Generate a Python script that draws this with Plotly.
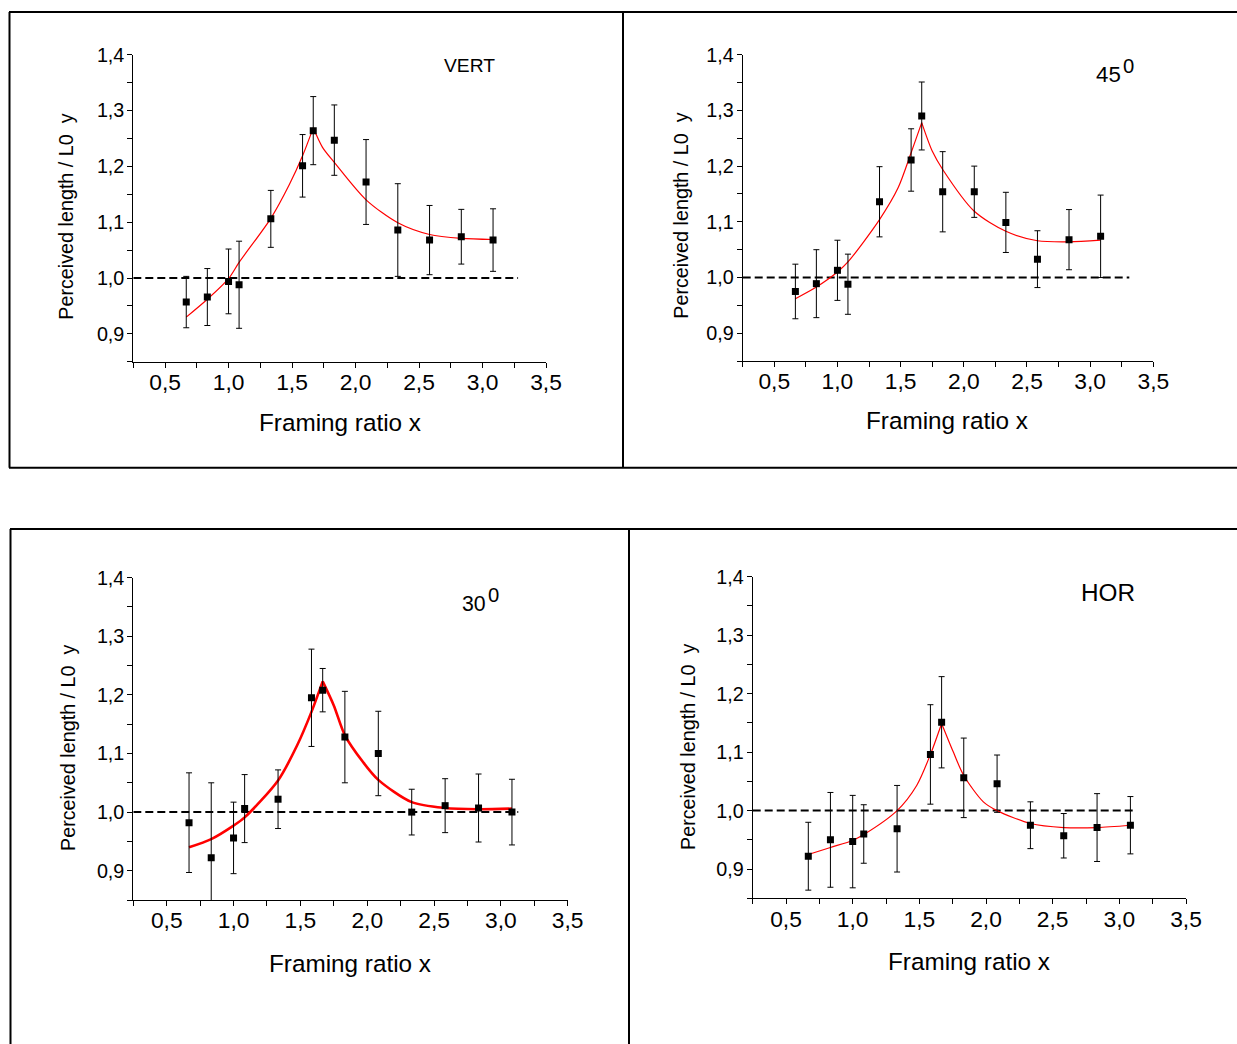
import plotly.graph_objects as go

# The photographed page comes out slightly scaled (about 1237/1253) and shifted
# down by about 10.7 px; positions below are given in photographed-window
# pixels and converted through that mapping.
WIN_W, WIN_H = 1237, 1044
SCALE = 1237 / 1253
OFFSET_Y = 10.7
W = 1253
H = int(round((WIN_H - OFFSET_Y) / SCALE)) + 2

# ---------------- data ----------------
framing_ratio = [0.667, 0.833, 1.0, 1.083, 1.333, 1.583, 1.667, 1.833, 2.083, 2.333, 2.583, 2.833, 3.083]

vert_y = [0.957, 0.966, 0.994, 0.988, 1.106, 1.201, 1.264, 1.247, 1.172, 1.086, 1.068, 1.074, 1.068]
vert_err = [0.046, 0.051, 0.058, 0.078, 0.051, 0.056, 0.061, 0.063, 0.076, 0.083, 0.062, 0.049, 0.056]

deg45_y = [0.975, 0.989, 1.013, 0.988, 1.136, 1.211, 1.290, 1.154, 1.154, 1.099, 1.033, 1.068, 1.074]
deg45_err = [0.049, 0.061, 0.054, 0.054, 0.063, 0.056, 0.061, 0.072, 0.046, 0.054, 0.051, 0.054, 0.074]

deg30_y = [0.982, 0.922, 0.956, 1.006, 1.022, 1.195, 1.208, 1.128, 1.100, 1.000, 1.011, 1.007, 1.000]
deg30_err = [0.085, 0.128, 0.061, 0.058, 0.050, 0.083, 0.037, 0.078, 0.072, 0.039, 0.046, 0.058, 0.056]

hor_y = [0.922, 0.950, 0.947, 0.960, 0.969, 1.096, 1.151, 1.056, 1.046, 0.975, 0.957, 0.971, 0.975]
hor_err = [0.058, 0.081, 0.079, 0.050, 0.074, 0.085, 0.078, 0.068, 0.049, 0.040, 0.038, 0.058, 0.049]

# fitted curves, rising branch and falling branch
vert_fit_left_x = [0.667, 0.833, 1.0, 1.083, 1.333, 1.48, 1.583, 1.667]
vert_fit_left_y = [0.930, 0.962, 0.999, 1.028, 1.107, 1.168, 1.219, 1.269]
vert_fit_right_x = [1.667, 1.74, 1.833, 2.083, 2.333, 2.583, 2.833, 3.083]
vert_fit_right_y = [1.269, 1.234, 1.207, 1.140, 1.099, 1.078, 1.071, 1.069]

deg45_fit_left_x = [0.667, 0.833, 1.0, 1.083, 1.333, 1.48, 1.583, 1.667]
deg45_fit_left_y = [0.962, 0.983, 1.010, 1.028, 1.104, 1.161, 1.224, 1.278]
deg45_fit_right_x = [1.667, 1.75, 1.833, 2.083, 2.333, 2.583, 2.833, 3.083]
deg45_fit_right_y = [1.278, 1.227, 1.194, 1.119, 1.083, 1.066, 1.064, 1.067]

deg30_fit_left_x = [0.667, 0.833, 1.0, 1.083, 1.333, 1.476, 1.583, 1.667]
deg30_fit_left_y = [0.940, 0.954, 0.977, 0.991, 1.054, 1.114, 1.171, 1.223]
deg30_fit_right_x = [1.667, 1.75, 1.833, 1.97, 2.083, 2.333, 2.583, 2.833, 3.083]
deg30_fit_right_y = [1.223, 1.182, 1.131, 1.085, 1.055, 1.017, 1.007, 1.005, 1.006]

hor_fit_left_x = [0.667, 0.833, 1.0, 1.083, 1.333, 1.48, 1.583, 1.667]
hor_fit_left_y = [0.925, 0.937, 0.949, 0.959, 1.000, 1.043, 1.096, 1.149]
hor_fit_right_x = [1.667, 1.755, 1.833, 1.98, 2.083, 2.333, 2.583, 2.833, 3.083]
hor_fit_right_y = [1.149, 1.100, 1.060, 1.015, 1.000, 0.978, 0.971, 0.971, 0.975]

# reference level (dashed) : x extent per panel
ref_level = 1.0
vert_ref_x = [0.25, 3.28]
deg45_ref_x = [0.25, 3.31]
deg30_ref_x = [0.25, 3.13]
hor_ref_x = [0.25, 3.13]

x_tickvals = [0.5, 1.0, 1.5, 2.0, 2.5, 3.0, 3.5]
x_ticktext = ["0,5", "1,0", "1,5", "2,0", "2,5", "3,0", "3,5"]
y_tickvals = [0.9, 1.0, 1.1, 1.2, 1.3, 1.4]
y_ticktext = ["0,9", "1,0", "1,1", "1,2", "1,3", "1,4"]

x_title = "Framing ratio x"
y_title = "Perceived length / L0\u00a0\u00a0y"

# ---------------- layout geometry (window pixels) ----------------
FONT = "Liberation Sans, Arial, sans-serif"

def px_x(p):
    return (p / SCALE) / W

def px_y(p):
    return 1 - ((p - OFFSET_Y) / SCALE) / H

def fs(size):
    return size / SCALE

panels = [
    dict(y=vert_y, err=vert_err, flx=vert_fit_left_x, fly=vert_fit_left_y,
         frx=vert_fit_right_x, fry=vert_fit_right_y, refx=vert_ref_x, fitw=1.2,
         box=(133.3, 546.0, 54.3, 360.7), xt=(340, 421), yt=(66, 215)),
    dict(y=deg45_y, err=deg45_err, flx=deg45_fit_left_x, fly=deg45_fit_left_y,
         frx=deg45_fit_right_x, fry=deg45_fit_right_y, refx=deg45_ref_x, fitw=1.2,
         box=(742.7, 1153.3, 54.3, 360.0), xt=(947, 419), yt=(681, 215)),
    dict(y=deg30_y, err=deg30_err, flx=deg30_fit_left_x, fly=deg30_fit_left_y,
         frx=deg30_fit_right_x, fry=deg30_fit_right_y, refx=deg30_ref_x, fitw=2.6,
         box=(133.3, 567.7, 576.0, 897.7), xt=(350, 961), yt=(68, 746)),
    dict(y=hor_y, err=hor_err, flx=hor_fit_left_x, fly=hor_fit_left_y,
         frx=hor_fit_right_x, fry=hor_fit_right_y, refx=hor_ref_x, fitw=1.2,
         box=(752.7, 1186.0, 575.0, 896.0), xt=(969, 959), yt=(688, 745)),
]

fig = go.Figure()
layout = dict(
    width=W, height=H, margin=dict(l=0, r=0, t=0, b=0),
    paper_bgcolor="white", plot_bgcolor="white", showlegend=False,
    font=dict(family=FONT, color="black"),
)
annotations = []
shapes = []

for i, p in enumerate(panels):
    n = "" if i == 0 else str(i + 1)
    xa, ya = "x" + n, "y" + n
    fig.add_trace(go.Scatter(x=p["refx"], y=[ref_level, ref_level], mode="lines",
                             line=dict(color="black", width=2, dash="8px,4px"),
                             xaxis=xa, yaxis=ya, hoverinfo="skip"))
    fig.add_trace(go.Scatter(x=p["flx"], y=p["fly"], mode="lines",
                             line=dict(color="#ff0000", width=p["fitw"], shape="spline", smoothing=0.8),
                             xaxis=xa, yaxis=ya))
    fig.add_trace(go.Scatter(x=p["frx"], y=p["fry"], mode="lines",
                             line=dict(color="#ff0000", width=p["fitw"], shape="spline", smoothing=0.8),
                             xaxis=xa, yaxis=ya))
    fig.add_trace(go.Scatter(x=framing_ratio, y=p["y"], mode="markers",
                             marker=dict(symbol="square", size=7, color="black"),
                             error_y=dict(type="data", array=p["err"], visible=True,
                                          color="black", thickness=1, width=3),
                             xaxis=xa, yaxis=ya))
    x0, x1, y0, y1 = p["box"]
    layout["xaxis" + n] = dict(
        domain=[px_x(x0), px_x(x1)], anchor=ya, range=[0.25, 3.5],
        showline=True, linecolor="black", linewidth=1, mirror=False,
        showgrid=False, zeroline=False,
        ticks="outside", ticklen=5, tickwidth=1, tickcolor="black",
        tickmode="array", tickvals=x_tickvals, ticktext=x_ticktext,
        minor=dict(tick0=0.25, dtick=0.25, ticks="outside", ticklen=5, tickwidth=1,
                   tickcolor="black", showgrid=False),
        tickfont=dict(family=FONT, size=fs(22.5), color="black"),
        ticklabelstandoff=-5,
    )
    layout["yaxis" + n] = dict(
        domain=[px_y(y1), px_y(y0)], anchor=xa, range=[0.85, 1.4],
        showline=True, linecolor="black", linewidth=1, mirror=False,
        showgrid=False, zeroline=False,
        ticks="outside", ticklen=5, tickwidth=1, tickcolor="black",
        tickmode="array", tickvals=y_tickvals, ticktext=y_ticktext,
        minor=dict(tick0=0.85, dtick=0.05, ticks="outside", ticklen=5, tickwidth=1,
                   tickcolor="black", showgrid=False),
        tickfont=dict(family=FONT, size=fs(19.5), color="black"),
        ticklabelstandoff=-1,
    )
    annotations.append(dict(text=x_title, xref="paper", yref="paper",
                            x=px_x(p["xt"][0]), y=px_y(p["xt"][1]),
                            xanchor="center", yanchor="middle", showarrow=False,
                            font=dict(family=FONT, size=fs(24), color="black")))
    annotations.append(dict(text=y_title, xref="paper", yref="paper",
                            x=px_x(p["yt"][0]), y=px_y(p["yt"][1]), textangle=-90,
                            xanchor="center", yanchor="middle", showarrow=False,
                            font=dict(family=FONT, size=fs(19.5), color="black")))

# panel labels
def label(text, cx, cy, size):
    annotations.append(dict(text=text, xref="paper", yref="paper", x=px_x(cx), y=px_y(cy),
                            xanchor="center", yanchor="middle", showarrow=False,
                            font=dict(family=FONT, size=fs(size), color="black")))

label("VERT", 470, 65, 19)
label("45", 1108.5, 74, 22)
label("0", 1128.5, 65.5, 20)
label("30", 474, 602.5, 21)
label("0", 493.5, 593.7, 20)
label("HOR", 1108, 591, 24)

# frames around the panels
def hline(y, xa, xb):
    shapes.append(dict(type="line", xref="paper", yref="paper", x0=px_x(xa), x1=px_x(xb),
                       y0=px_y(y), y1=px_y(y), line=dict(color="black", width=2)))

def vline(x, ya, yb):
    shapes.append(dict(type="line", xref="paper", yref="paper", x0=px_x(x), x1=px_x(x),
                       y0=px_y(ya), y1=px_y(yb), line=dict(color="black", width=2)))

TOP = OFFSET_Y + 1.0  # highest line the page can show
hline(TOP, 9, WIN_W + 20)
hline(466.5, 9, WIN_W + 20)
vline(9.5, TOP, 466.5)
vline(623, TOP, 466.5)
hline(527.5, 10, WIN_W + 20)
vline(10.5, 527.5, WIN_H + 20)
vline(629, 527.5, WIN_H + 20)

layout["annotations"] = annotations
layout["shapes"] = shapes
fig.update_layout(**layout)
fig.write_html("out.html")
